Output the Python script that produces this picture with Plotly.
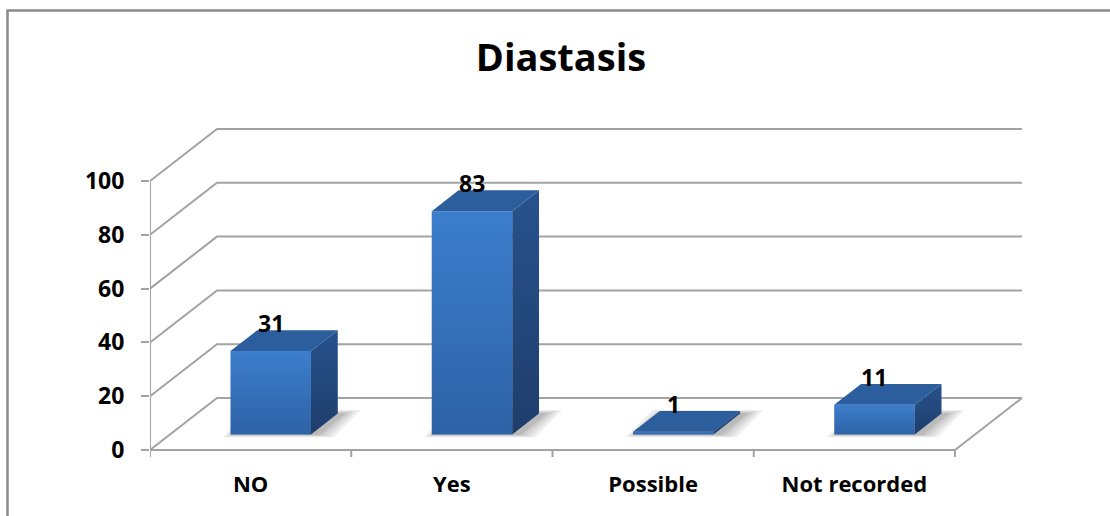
import plotly.graph_objects as go

# ---- data ----
categories = ["NO", "Yes", "Possible", "Not recorded"]
counts = [31, 83, 1, 11]
y_ticks = [0, 20, 40, 60, 80, 100]
chart_title = "Diastasis"

# ---- canvas / scale ----
W, H = 1110, 516
L, R, T, B = 150, 50, 100, 56
PX_PER_X = 201.25          # pixels per category slot
PX_PER_Y = 2.69            # pixels per count unit
ZERO_PY = 450              # pixel row of the value 0 on the front plane

x_lo = -0.5
x_hi = x_lo + (W - L - R) / PX_PER_X
y_lo = -((H - B) - ZERO_PY) / PX_PER_Y
y_hi = (ZERO_PY - T) / PX_PER_Y

# oblique depth projection (axis units for a full unit of depth)
DX = 67 / PX_PER_X
DY = 52 / PX_PER_Y
BAR_HALF = 0.2
D_FRONT, D_BACK = 0.3, 0.7

GRID = "#a3a3a3"
FONT = "Open Sans"

fig = go.Figure()

n = len(categories)
x_first, x_last = -0.5, n - 0.5

# back wall and left wall gridlines
gx, gy = [], []
for v in y_ticks:
    gx += [x_first, x_first + DX, x_last + DX, None]
    gy += [v, v + DY, v + DY, None]
# floor front and right edges
gx += [x_first, x_last, x_last + DX, None]
gy += [0, 0, DY, None]
# value axis line
gx += [x_first, x_first, None]
gy += [0, y_ticks[-1], None]
# category boundary ticks
for k in range(n + 1):
    b = x_first + k
    gx += [b, b, None]
    gy += [0, -7 / PX_PER_Y, None]
fig.add_trace(go.Scatter(x=gx, y=gy, mode="lines",
                         line=dict(color=GRID, width=2),
                         hoverinfo="skip", showlegend=False))

# bars
for i, v in enumerate(counts):
    x0 = i - BAR_HALF + D_FRONT * DX
    x1 = i + BAR_HALF + D_FRONT * DX
    yb = D_FRONT * DY
    yt = v + D_FRONT * DY
    ddx = (D_BACK - D_FRONT) * DX
    ddy = (D_BACK - D_FRONT) * DY

    # soft floor shadow
    for e in [0.09, 0.07, 0.05, 0.03, 0.015]:
        sx = 0.025
        ey = e * 30
        fig.add_trace(go.Scatter(
            x=[x0 - e * 0.7 + sx, x1 + e + sx, x1 + ddx + e + sx, x0 + ddx - e * 0.7 + sx, x0 - e * 0.7 + sx],
            y=[yb - ey * 0.4, yb - ey * 0.4, yb + ddy + ey * 0.5, yb + ddy + ey * 0.5, yb - ey * 0.4],
            mode="lines", fill="toself", line=dict(width=0),
            fillcolor="rgba(0,0,0,0.06)", hoverinfo="skip", showlegend=False))

    # front face
    fig.add_trace(go.Scatter(
        x=[x0, x1, x1, x0, x0], y=[yb, yb, yt, yt, yb],
        mode="lines", fill="toself", line=dict(width=0),
        fillgradient=dict(type="vertical",
                          colorscale=[[0, "#2e62a6"], [1, "#3c7ecd"]]),
        hoverinfo="skip", showlegend=False))
    # side face
    fig.add_trace(go.Scatter(
        x=[x1, x1 + ddx, x1 + ddx, x1, x1], y=[yb, yb + ddy, yt + ddy, yt, yb],
        mode="lines", fill="toself", line=dict(width=0),
        fillgradient=dict(type="vertical",
                          colorscale=[[0, "#1e3e6c"], [1, "#28528c"]]),
        hoverinfo="skip", showlegend=False))
    # top face
    fig.add_trace(go.Scatter(
        x=[x0, x1, x1 + ddx, x0 + ddx, x0], y=[yt, yt, yt + ddy, yt + ddy, yt],
        mode="lines", fill="toself", line=dict(width=0),
        fillcolor="#2c5d9d", hoverinfo="skip", showlegend=False))

    # value label
    fig.add_annotation(x=i + D_FRONT * DX, y=v + D_BACK * DY, text=str(v),
                       showarrow=False, yanchor="middle", yshift=7,
                       font=dict(family=FONT, size=23, color="black", weight="bold"))

# outer frame
pw, ph = W - L - R, H - T - B
fig.add_shape(type="line", xref="paper", yref="paper",
              x0=(7.5 - L) / pw, x1=(7.5 - L) / pw,
              y0=((H - B) - 10.5) / ph, y1=((H - B) - 530) / ph,
              line=dict(color="#8a8a8a", width=2.5))
fig.add_shape(type="line", xref="paper", yref="paper",
              x0=(6.5 - L) / pw, x1=(1130 - L) / pw,
              y0=((H - B) - 10.5) / ph, y1=((H - B) - 10.5) / ph,
              line=dict(color="#8a8a8a", width=2.5))

fig.update_layout(
    width=W, height=H,
    margin=dict(l=L, r=R, t=T, b=B),
    paper_bgcolor="white", plot_bgcolor="white",
    showlegend=False,
    title=dict(text=chart_title, xref="container", yref="container",
               x=561 / W, y=1 - 58 / H, xanchor="center", yanchor="middle",
               font=dict(family=FONT, size=38, color="black", weight="bold")),
    xaxis=dict(range=[x_lo, x_hi], showgrid=False, zeroline=False,
               tickvals=list(range(n)), ticktext=categories,
               ticks="", ticklabelstandoff=9,
               tickfont=dict(family=FONT, size=22, color="black", weight="bold"),
               showline=False, fixedrange=True),
    yaxis=dict(range=[y_lo, y_hi], showgrid=False, zeroline=False,
               tickvals=y_ticks, ticktext=[str(t) for t in y_ticks],
               ticks="outside", ticklen=8, tickcolor=GRID, tickwidth=2,
               ticklabelstandoff=12,
               tickfont=dict(family=FONT, size=23, color="black", weight="bold"),
               showline=False, fixedrange=True),
)

fig.write_html("out.html")
